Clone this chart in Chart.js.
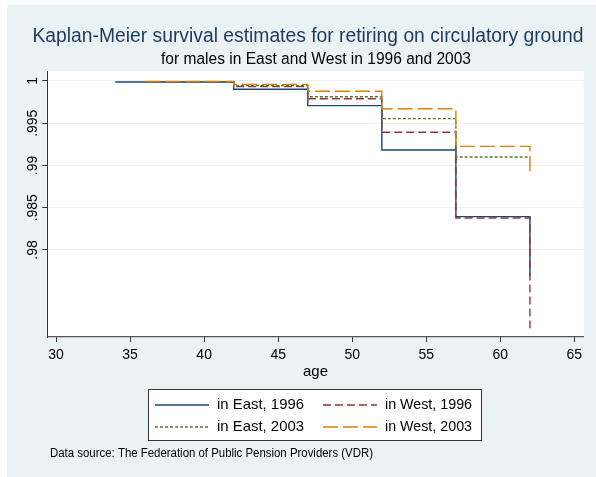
<!DOCTYPE html>
<html>
<head>
<meta charset="utf-8">
<script src="https://cdn.jsdelivr.net/npm/chart.js@4.4.1/dist/chart.umd.min.js"></script>
<style>
  html, body { margin: 0; padding: 0; background: #fff; }
</style>
</head>
<body>
<canvas id="km" width="596" height="477"></canvas>
<script>
// Kaplan-Meier step data (age at step, survival from that age on)
const eastAges = [34, 42, 47, 52, 57, 62];
const westAges = [36, 42, 47, 52, 57, 62];
const east1996 = [0.99988, 0.99902, 0.99708, 0.99183, 0.98394, 0.97692];
const west1996 = [0.99992, 0.99935, 0.99790, 0.99393, 0.98379, 0.97073];
const east2003 = [0.99992, 0.99945, 0.99814, 0.99554, 0.99101, 0.99101];
const west2003 = [0.99995, 0.99960, 0.99878, 0.99672, 0.99226, 0.98896];
const seriesLabels = ['in East, 1996', 'in West, 1996', 'in East, 2003', 'in West, 2003'];

const xTicks = [30, 35, 40, 45, 50, 55, 60, 65];
const yTicks = [0.98, 0.985, 0.99, 0.995, 1];

const FONT = '"Liberation Sans", Arial, sans-serif';
const BG = '#eaf2f3';

function toPoints(ages, vals) {
    return ages.map((a, i) => ({ x: a, y: vals[i] }));
}

function stepSeries(label, ages, vals, color, dash, order) {
    return {
        label: label,
        data: toPoints(ages, vals),
        borderColor: color,
        backgroundColor: color,
        borderWidth: 1.4,
        borderDash: dash,
        stepped: 'before',
        pointRadius: 0,
        fill: false,
        order: order
    };
}

// background, titles, legend box and footnote
const stataFrame = {
    id: 'stataFrame',
    beforeDraw(chart) {
        const { ctx, chartArea: a } = chart;
        ctx.save();
        ctx.fillStyle = '#fff';
        ctx.fillRect(0, 0, chart.width, chart.height);
        ctx.fillStyle = BG;
        ctx.fillRect(7, 5, chart.width - 7, chart.height - 5);
        ctx.fillStyle = '#fff';
        ctx.fillRect(a.left, a.top, a.right - a.left, a.bottom - a.top);
        ctx.restore();
    },
    afterDraw(chart) {
        const ctx = chart.ctx;
        ctx.save();
        ctx.textBaseline = 'middle';
        ctx.textAlign = 'center';
        ctx.fillStyle = '#1e3a5f';
        ctx.font = '20px ' + FONT;
        ctx.fillText('Kaplan-Meier survival estimates for retiring on circulatory ground', 308, 36, 551);
        ctx.fillStyle = '#000';
        ctx.font = '16px ' + FONT;
        ctx.fillText('for males in East and West in 1996 and 2003', 316, 60, 310);

        // legend
        ctx.fillStyle = '#fff';
        ctx.fillRect(148.5, 389.5, 333, 51);
        ctx.strokeStyle = '#333';
        ctx.lineWidth = 1;
        ctx.strokeRect(148.5, 389.5, 333, 51);
        const cols = [155, 323];
        const rows = [405, 427];
        chart.data.datasets.forEach((ds, i) => {
            const x = cols[i % 2];
            const y = rows[Math.floor(i / 2)];
            ctx.strokeStyle = ds.borderColor;
            ctx.lineWidth = ds.borderWidth;
            ctx.setLineDash(ds.borderDash || []);
            ctx.beginPath();
            ctx.moveTo(x, y);
            ctx.lineTo(x + 54, y);
            ctx.stroke();
            ctx.setLineDash([]);
            ctx.fillStyle = '#000';
            ctx.textAlign = 'left';
            ctx.font = '15px ' + FONT;
            ctx.fillText(ds.label, x + 62, y, 87);
        });

        ctx.font = '12px ' + FONT;
        ctx.fillText('Data source: The Federation of Public Pension Providers (VDR)', 50, 454, 323);
        ctx.restore();
    }
};

new Chart(document.getElementById('km'), {
    type: 'line',
    data: {
        datasets: [
            stepSeries(seriesLabels[0], eastAges, east1996, '#1a476f', [], 3),
            stepSeries(seriesLabels[1], westAges, west1996, '#90353b', [8, 4], 2),
            stepSeries(seriesLabels[2], westAges, east2003, '#55752f', [3, 2], 1),
            stepSeries(seriesLabels[3], westAges, west2003, '#e37e00', [15, 5], 0)
        ]
    },
    options: {
        responsive: false,
        devicePixelRatio: 1,
        animation: false,
        layout: { padding: { left: 7, top: 71, right: 12.3, bottom: 0 } },
        plugins: {
            legend: { display: false },
            tooltip: { enabled: false }
        },
        scales: {
            x: {
                type: 'linear',
                min: 29.41,
                max: 65.63,
                afterBuildTicks: s => { s.ticks = xTicks.map(v => ({ value: v })); },
                afterFit: s => { s.height = 140; },
                ticks: { color: '#000', font: { family: FONT, size: 14 }, padding: 5, maxRotation: 0 },
                grid: { drawOnChartArea: false, tickColor: '#333', tickLength: 5 },
                border: { color: '#555', width: 1.3 },
                title: {
                    display: true,
                    text: 'age',
                    color: '#000',
                    font: { family: FONT, size: 15 },
                    padding: { top: 0, bottom: 96 }
                }
            },
            y: {
                type: 'linear',
                min: 0.9697,
                max: 1.00118,
                afterBuildTicks: s => { s.ticks = yTicks.map(v => ({ value: v })); },
                afterFit: s => { s.width = 40.3; },
                ticks: {
                    color: '#000',
                    font: { family: FONT, size: 14 },
                    minRotation: 90,
                    maxRotation: 90,
                    crossAlign: 'center',
                    padding: -4,
                    callback: v => (v === 1 ? '1' : String(v).replace(/^0/, ''))
                },
                grid: { color: BG, tickColor: '#333', tickLength: 5, lineWidth: 1 },
                border: { color: '#333', width: 1 }
            }
        }
    },
    plugins: [stataFrame]
});
</script>
</body>
</html>
